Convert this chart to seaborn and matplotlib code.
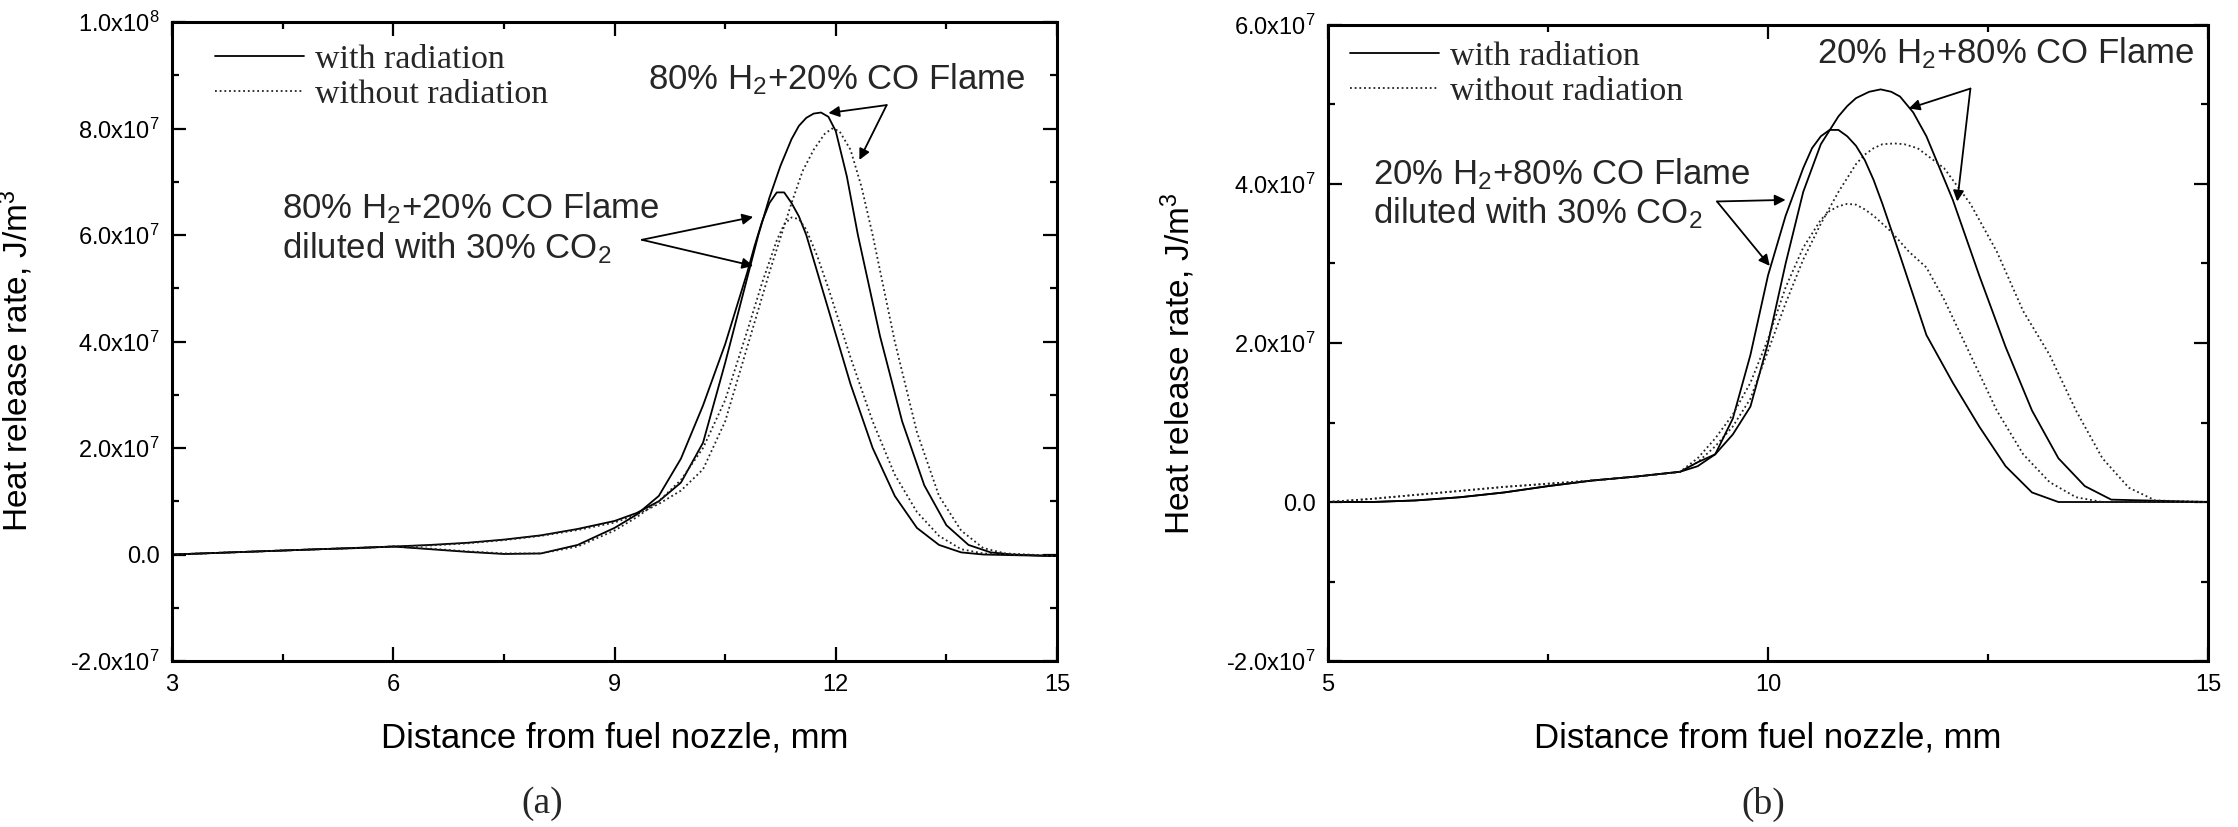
import math
import matplotlib
matplotlib.use("Agg")
import matplotlib.pyplot as plt
import seaborn as sns
import pandas as pd
from matplotlib.ticker import MultipleLocator, FuncFormatter

# ---------------- data (heat release rate in units of 1e7 J/m^3) ----------------
# Panel (a): 80% H2 + 20% CO
a_dil_rad_x = [3, 4, 5, 5.5, 6, 6.5, 7, 7.5, 8, 8.5, 9, 9.3, 9.6, 9.9, 10.2, 10.5, 10.8, 10.9, 11.0, 11.1,
               11.2, 11.3, 11.4, 11.5, 11.6, 11.75, 11.9, 12.2, 12.5, 12.8, 13.1, 13.4, 13.7, 14.0, 15]
a_dil_rad_y = [0, 0.05, 0.1, 0.12, 0.15, 0.1, 0.05, 0.01, 0.02, 0.18, 0.5, 0.75, 1.1, 1.8, 2.8, 3.95, 5.3, 5.8, 6.25, 6.6,
               6.8, 6.8, 6.6, 6.35, 6.0, 5.3, 4.6, 3.2, 2.0, 1.1, 0.5, 0.18, 0.04, 0.0, -0.03]
a_dil_norad_x = [3, 4, 5, 5.5, 6, 6.5, 7, 7.5, 8, 8.5, 9, 9.3, 9.6, 9.9, 10.2, 10.5, 10.8, 11.0, 11.1, 11.2,
                 11.3, 11.4, 11.5, 11.6, 11.75, 11.9, 12.2, 12.5, 12.8, 13.1, 13.4, 13.7, 14.0, 15]
a_dil_norad_y = [0, 0.05, 0.1, 0.12, 0.15, 0.11, 0.06, 0.02, 0.02, 0.15, 0.45, 0.7, 1.0, 1.4, 2.0, 2.9, 4.2, 5.1, 5.5, 5.9,
                 6.2, 6.33, 6.3, 6.1, 5.6, 5.0, 3.7, 2.5, 1.5, 0.8, 0.35, 0.1, 0.02, -0.03]
a_pure_rad_x = [3, 4, 5, 6, 6.5, 7, 7.5, 8, 8.5, 9, 9.3, 9.6, 9.9, 10.2, 10.5, 10.8, 10.95, 11.1, 11.25, 11.4,
                11.5, 11.6, 11.7, 11.8, 11.9, 12.0, 12.15, 12.3, 12.6, 12.9, 13.2, 13.5, 13.8, 14.1, 14.4, 15]
a_pure_rad_y = [0, 0.05, 0.1, 0.15, 0.18, 0.22, 0.28, 0.36, 0.48, 0.63, 0.78, 1.0, 1.35, 2.1, 3.6, 5.2, 6.0, 6.7, 7.3, 7.8,
                8.05, 8.2, 8.28, 8.3, 8.22, 7.95, 7.1, 6.0, 4.1, 2.5, 1.3, 0.55, 0.18, 0.04, 0.0, -0.03]
a_pure_norad_x = [3, 4, 5, 6, 6.5, 7, 7.5, 8, 8.5, 9, 9.3, 9.6, 9.9, 10.2, 10.5, 10.8, 11.1, 11.4, 11.55, 11.7,
                  11.85, 11.95, 12.05, 12.2, 12.35, 12.5, 12.8, 13.1, 13.4, 13.7, 14.0, 14.3, 14.6, 15]
a_pure_norad_y = [0, 0.05, 0.1, 0.15, 0.17, 0.21, 0.27, 0.35, 0.46, 0.6, 0.75, 0.95, 1.2, 1.6, 2.5, 3.9, 5.3, 6.6, 7.2, 7.6,
                  7.9, 8.0, 7.95, 7.6, 6.9, 6.0, 4.0, 2.3, 1.1, 0.45, 0.12, 0.02, 0.0, -0.03]

# Panel (b): 20% H2 + 80% CO
b_dil_rad_x = [5, 5.5, 6, 6.5, 7, 7.5, 8, 8.5, 9, 9.2, 9.4, 9.6, 9.8, 10.0, 10.2, 10.4, 10.5, 10.6, 10.7, 10.8,
               10.9, 11.0, 11.1, 11.2, 11.3, 11.5, 11.8, 12.1, 12.4, 12.7, 13.0, 13.3, 14, 15]
b_dil_rad_y = [0, 0.0, 0.02, 0.06, 0.12, 0.2, 0.27, 0.32, 0.38, 0.5, 0.6, 1.05, 1.85, 2.85, 3.6, 4.2, 4.45, 4.6, 4.68, 4.68,
               4.6, 4.48, 4.3, 4.05, 3.75, 3.1, 2.1, 1.5, 0.95, 0.45, 0.12, 0.0, 0.0, 0.0]
b_pure_rad_x = [5, 5.5, 6, 6.5, 7, 7.5, 8, 8.5, 9, 9.2, 9.4, 9.6, 9.8, 10.0, 10.2, 10.4, 10.6, 10.8, 10.9, 11.0,
                11.15, 11.28, 11.4, 11.5, 11.65, 11.8, 12.1, 12.4, 12.7, 13.0, 13.3, 13.6, 13.9, 15]
b_pure_rad_y = [0, 0.0, 0.02, 0.06, 0.12, 0.2, 0.27, 0.32, 0.38, 0.45, 0.6, 0.85, 1.2, 2.0, 3.0, 3.9, 4.5, 4.85, 4.98, 5.08,
                5.16, 5.19, 5.16, 5.1, 4.9, 4.6, 3.8, 2.85, 1.95, 1.15, 0.55, 0.2, 0.03, 0.0]
b_dil_norad_x = [5, 5.5, 6, 6.5, 7, 7.5, 8, 8.5, 9, 9.2, 9.4, 9.6, 9.8, 10.0, 10.2, 10.4, 10.6, 10.7, 10.8, 10.9,
                 11.0, 11.1, 11.2, 11.4, 11.6, 11.8, 12.0, 12.3, 12.6, 12.9, 13.2, 13.5, 13.8, 15]
b_dil_norad_y = [0, 0.04, 0.09, 0.14, 0.19, 0.23, 0.27, 0.32, 0.38, 0.55, 0.8, 1.1, 1.5, 2.05, 2.7, 3.2, 3.55, 3.66, 3.72, 3.75,
                 3.74, 3.68, 3.6, 3.4, 3.15, 2.95, 2.55, 1.85, 1.15, 0.6, 0.25, 0.06, 0.0, 0.0]
b_pure_norad_x = [5, 5.5, 6, 6.5, 7, 7.5, 8, 8.5, 9, 9.2, 9.4, 9.6, 9.8, 10.0, 10.2, 10.4, 10.6, 10.8, 11.0, 11.1,
                  11.2, 11.3, 11.44, 11.55, 11.7, 12.0, 12.3, 12.6, 12.9, 13.2, 13.5, 13.8, 14.1, 14.4, 15]
b_pure_norad_y = [0, 0.04, 0.09, 0.14, 0.19, 0.23, 0.27, 0.32, 0.38, 0.5, 0.7, 0.95, 1.3, 1.9, 2.5, 3.05, 3.5, 3.9, 4.25, 4.37,
                  4.45, 4.5, 4.51, 4.5, 4.45, 4.2, 3.75, 3.15, 2.4, 1.85, 1.15, 0.55, 0.18, 0.02, 0.0]

legend_labels = ["with radiation", "without radiation"]
x_label = "Distance from fuel nozzle, mm"
y_label = "Heat release rate, J/m$^3$"
a_flame = "80% H$_2$+20% CO Flame"
b_flame = "20% H$_2$+80% CO Flame"
dil_line2 = "diluted with 30% CO$_2$"
SCALE = 1e7

# ---------------- style ----------------
sns.set_theme(style="ticks")
plt.rcParams["font.family"] = ["Liberation Sans", "DejaVu Sans"]
plt.rcParams["mathtext.fontset"] = "custom"
plt.rcParams["mathtext.rm"] = "Liberation Sans"
plt.rcParams["mathtext.it"] = "Liberation Sans:italic"
plt.rcParams["mathtext.bf"] = "Liberation Sans:bold"

SOLID = dict(color="black", lw=1.3, linestyle="-")
DOT = dict(color="#222222", lw=1.3, linestyle=(0, (1, 1.6)))
ANN_FS = 25

fig = plt.figure(figsize=(22.38, 8.27), dpi=100)
axA = fig.add_axes([0.0769, 0.2007, 0.3954, 0.7727])
axB = fig.add_axes([0.5934, 0.2007, 0.3932, 0.7691])


def sci_fmt(v, pos):
    if abs(v) < 1:
        return "0.0"
    e = int(math.floor(math.log10(abs(v)) + 1e-9))
    m = v / 10 ** e
    return f"{m:.1f}x10$^{{{e}}}$"


def draw(ax, curves):
    lines = []
    for xs, ys, st in curves:
        df = pd.DataFrame({"x": xs, "y": [v * SCALE for v in ys]})
        sns.lineplot(data=df, x="x", y="y", ax=ax, estimator=None, sort=False, **st)
        lines.append(ax.get_lines()[-1])
    return lines


def style_axes(ax, xlim, ylim, xmaj, xmin):
    ax.set_xlim(*xlim)
    ax.set_ylim(*ylim)
    ax.xaxis.set_major_locator(MultipleLocator(xmaj))
    ax.xaxis.set_minor_locator(MultipleLocator(xmin))
    ax.yaxis.set_major_locator(MultipleLocator(2e7))
    ax.yaxis.set_minor_locator(MultipleLocator(1e7))
    ax.yaxis.set_major_formatter(FuncFormatter(sci_fmt))
    ax.xaxis.set_major_formatter(FuncFormatter(lambda v, p: f"{v:g}"))
    ax.tick_params(which="both", direction="in", top=True, right=True, colors="black",
                   labelsize=17, width=1.6)
    ax.tick_params(which="major", length=10, pad=9)
    ax.tick_params(which="minor", length=5)
    for s in ax.spines.values():
        s.set_visible(True)
        s.set_linewidth(2.2)
        s.set_color("black")
    ax.set_xlabel(x_label, fontsize=25, color="black")
    ax.set_ylabel(y_label, fontsize=24, color="black")
    ax.xaxis.set_label_coords(0.5, -0.095)
    ax.grid(False)


def legend(ax, h, anchor):
    ax.legend(h, legend_labels, loc="upper left", bbox_to_anchor=anchor, frameon=False,
              prop={"family": "Liberation Serif", "size": 24.5}, handlelength=2.6,
              handletextpad=0.33, borderpad=0, borderaxespad=0, labelspacing=0.12)


ARW = dict(arrowstyle="-|>", color="black", lw=1.3, mutation_scale=16, shrinkA=0, shrinkB=0)


def arrow(ax, start, end):
    ax.annotate("", xy=(end[0], end[1] * SCALE), xytext=(start[0], start[1] * SCALE),
                arrowprops=ARW)


# ---------------- panel (a) ----------------
la = draw(axA, [(a_pure_rad_x, a_pure_rad_y, SOLID), (a_pure_norad_x, a_pure_norad_y, DOT),
                (a_dil_rad_x, a_dil_rad_y, SOLID), (a_dil_norad_x, a_dil_norad_y, DOT)])
style_axes(axA, (3, 15), (-2e7, 1e8), 3, 1.5)
axA.yaxis.set_label_coords(-0.155, 0.47)
legend(axA, la[:2], (0.0486, 0.965))
axA.text(9.45, 8.74e7, a_flame, fontsize=ANN_FS, ha="left", va="baseline")
arrow(axA, (12.69, 8.44), (11.9, 8.29))
arrow(axA, (12.69, 8.44), (12.32, 7.41))
axA.text(4.49, 6.32e7, a_flame, fontsize=ANN_FS, ha="left", va="baseline")
axA.text(4.49, 5.57e7, dil_line2, fontsize=ANN_FS, ha="left", va="baseline")
arrow(axA, (9.37, 5.91), (10.88, 6.34))
arrow(axA, (9.37, 5.91), (10.88, 5.42))

# ---------------- panel (b) ----------------
lb = draw(axB, [(b_pure_rad_x, b_pure_rad_y, SOLID), (b_pure_norad_x, b_pure_norad_y, DOT),
                (b_dil_rad_x, b_dil_rad_y, SOLID), (b_dil_norad_x, b_dil_norad_y, DOT)])
style_axes(axB, (5, 15), (-2e7, 6e7), 5, 2.5)
axB.yaxis.set_label_coords(-0.149, 0.468)
legend(axB, lb[:2], (0.025, 0.975))
axB.text(10.56, 5.52e7, b_flame, fontsize=ANN_FS, ha="left", va="baseline")
arrow(axB, (12.3, 5.2), (11.6, 4.95))
arrow(axB, (12.3, 5.2), (12.15, 3.78))
axB.text(5.51, 3.99e7, b_flame, fontsize=ANN_FS, ha="left", va="baseline")
axB.text(5.51, 3.50e7, dil_line2, fontsize=ANN_FS, ha="left", va="baseline")
arrow(axB, (9.42, 3.78), (10.2, 3.8))
arrow(axB, (9.42, 3.78), (10.02, 2.97))

fig.text(0.2422, 0.0278, "(a)", fontsize=27, family="Liberation Serif", ha="center", va="center")
fig.text(0.788, 0.0278, "(b)", fontsize=27, family="Liberation Serif", ha="center", va="center")

fig.savefig("out.png", dpi=100, facecolor="white")
